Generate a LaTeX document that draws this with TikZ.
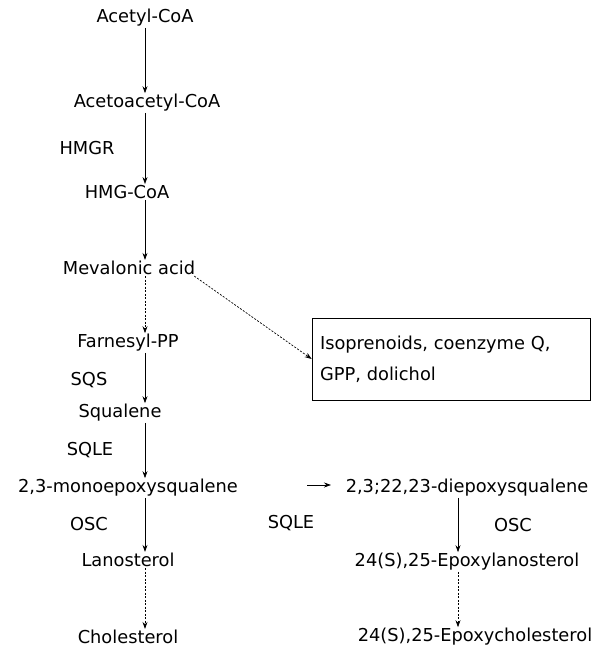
\documentclass[tikz,border=0pt]{standalone}
\usepackage{fontspec}
\setmainfont{DejaVu Sans}
\usetikzlibrary{positioning,arrows.meta}
\tikzset{mol/.style={inner sep=1pt,font=\fontsize{17.8}{20}\selectfont},
         enz/.style={inner sep=1pt,font=\fontsize{17.8}{20}\selectfont},
         conv/.style={-{Stealth[length=7pt,width=5pt]},line width=0.7pt},
         minor/.style={conv,dash pattern=on 2pt off 1.5pt},
         }
\begin{document}
\begin{tikzpicture}[x=1pt,y=-1pt]
\useasboundingbox (0,0) rectangle (610,667);
\coordinate (ax) at (145,0);
\coordinate (bx) at (458,0);
% main pathway
\node[mol] (acetyl) at (145,18) {Acetyl-CoA};
\node[mol] (acetoacetyl) at (147,103) {Acetoacetyl-CoA};
\node[mol] (hmg) at (127,192) {HMG-CoA};
\node[mol] (mevalonic) at (129,268) {Mevalonic acid};
\node[mol] (farnesyl) at (128,343) {Farnesyl-PP};
\node[mol] (squalene) at (120,413) {Squalene};
\node[mol] (mono) at (128,488) {2,3-monoepoxysqualene};
\node[mol] (lano) at (128,560) {Lanosterol};
\node[mol] (chol) at (128,637) {Cholesterol};
% enzymes
\node[enz] at (87,148) {HMGR};
\node[enz] at (89,380) {SQS};
\node[enz] at (90,450) {SQLE};
\node[enz] at (89,524) {OSC};
% side pathway
\node[mol] (di) at (467,488) {2,3;22,23-diepoxysqualene};
\node[mol] (epoxylano) at (467,562) {24(S),25-Epoxylanosterol};
\node[mol] (epoxychol) at (475,637) {24(S),25-Epoxycholesterol};
\node[enz] at (291,523) {SQLE};
\node[enz] at (513,525) {OSC};
\node[draw,line width=0.6pt,align=left,inner sep=8pt,text width=262pt,minimum height=82pt,
      font=\fontsize{17.8}{31}\selectfont] (iso) at (451,359)
      {Isoprenoids, coenzyme Q,\\GPP, dolichol};
\coordinate (split) at (307,485);
% arrows
\draw[conv] (acetyl.south -| ax) -- (acetoacetyl.north -| ax);
\draw[conv] (acetoacetyl.south -| ax) -- (hmg.north -| ax);
\draw[conv] (hmg.south -| ax) -- (mevalonic.north -| ax);
\draw[minor] (mevalonic.south -| ax) -- (farnesyl.north -| ax);
\draw[minor] (mevalonic.south east) ++(-2,0) -- (iso.west);
\draw[conv] (farnesyl.south -| ax) -- (squalene.north -| ax);
\draw[conv] (squalene.south -| ax) -- (mono.north -| ax);
\draw[conv] (mono.south -| ax) -- (lano.north -| ax);
\draw[minor] (lano.south -| ax) -- (chol.north -| ax);
\draw[conv] (split) -- ++(24,0);
\draw[conv] (di.south -| bx) -- (epoxylano.north -| bx);
\draw[minor] (epoxylano.south -| bx) -- (epoxychol.north -| bx);
\end{tikzpicture}
\end{document}
